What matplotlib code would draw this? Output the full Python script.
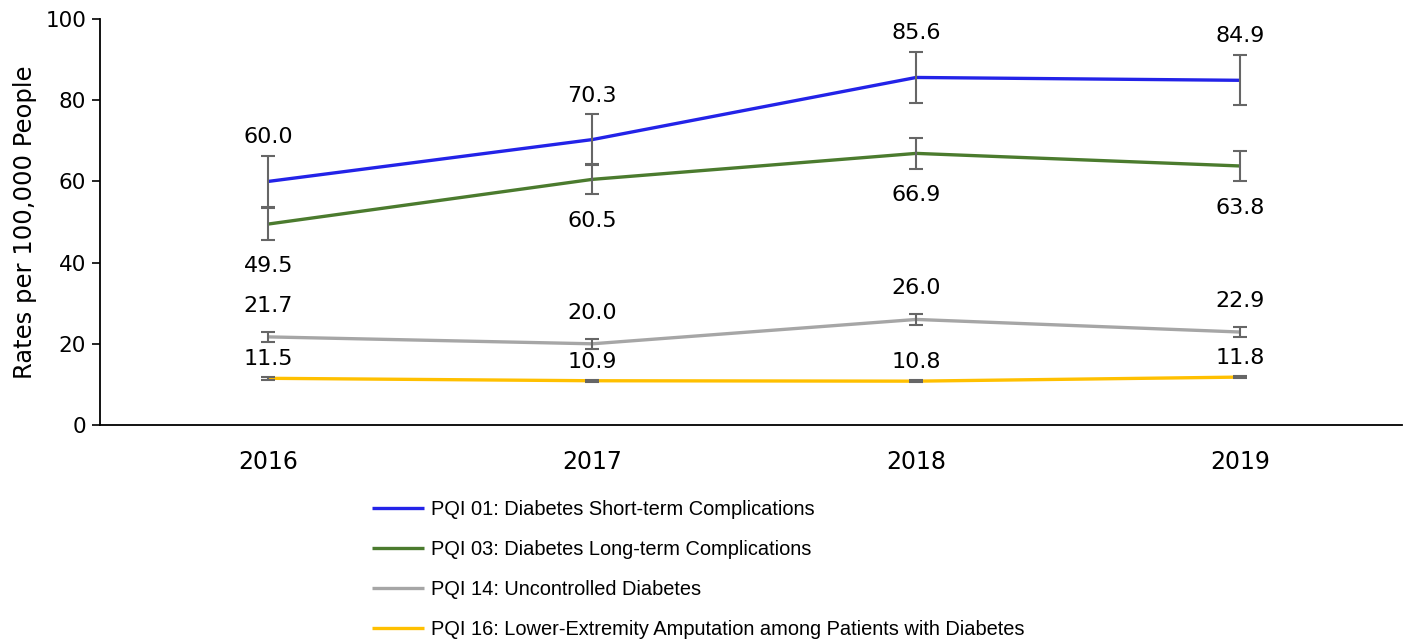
import matplotlib
matplotlib.use("Agg")
import matplotlib.pyplot as plt
import numpy as np

years = ["2016", "2017", "2018", "2019"]
series_names = [
    "PQI 01: Diabetes Short-term Complications",
    "PQI 03: Diabetes Long-term Complications",
    "PQI 14: Uncontrolled Diabetes",
    "PQI 16: Lower-Extremity Amputation among Patients with Diabetes",
]
pqi01 = [60.0, 70.3, 85.6, 84.9]
pqi03 = [49.5, 60.5, 66.9, 63.8]
pqi14 = [21.7, 20.0, 26.0, 22.9]
pqi16 = [11.5, 10.9, 10.8, 11.8]
err01 = [6.2, 6.2, 6.2, 6.2]
err03 = [4.0, 3.7, 3.8, 3.8]
err14 = [1.2, 1.2, 1.3, 1.2]
err16 = [0.3, 0.3, 0.3, 0.3]
yticks = [0, 20, 40, 60, 80, 100]

colors = ["#2323E8", "#4B7B2E", "#A6A6A6", "#FFC000"]
label_offsets_px = [44, -42, 31, 19]  # vertical offset of value labels (pixels)

plt.rcParams['font.family'] = ['DejaVu Sans']

fig = plt.figure(figsize=(14.04, 6.41), dpi=100)
ax = fig.add_axes([100/1404, 1-425/641, 1302/1404, (425-19)/641])

x = np.arange(len(years))
data = [pqi01, pqi03, pqi14, pqi16]
errs = [err01, err03, err14, err16]

handles = []
for vals, er, c, name in zip(data, errs, colors, series_names):
    h, = ax.plot(x, vals, color=c, lw=2.4, label=name, zorder=2, solid_capstyle='butt')
    handles.append(h)
for vals, er in zip(data, errs):
    ax.errorbar(x, vals, yerr=er, fmt='none', ecolor='#666666', elinewidth=1.5,
                capsize=5, capthick=1.5, zorder=3)
for vals, c, off in zip(data, colors, label_offsets_px):
    for xi, v in zip(x, vals):
        ax.annotate(f"{v:.1f}", (xi, v), xytext=(0, off*72/100), textcoords='offset points',
                    ha='center', va='center', fontsize=16, color='black')

ax.set_xlim(-0.52, 3.5)
ax.set_ylim(0, 100)
ax.set_yticks(yticks)
ax.set_xticks(x)
ax.set_xticklabels(years, fontsize=17)
ax.tick_params(axis='y', labelsize=15.5, length=6, width=1.2, direction='out', pad=4)
ax.tick_params(axis='x', length=0, pad=18)
for s in ['top', 'right']:
    ax.spines[s].set_visible(False)
for s in ['left', 'bottom']:
    ax.spines[s].set_linewidth(1.3)
ax.set_ylabel("Rates per 100,000 People", fontsize=17.5, labelpad=6)

leg = fig.legend(handles=handles, loc='upper left', bbox_to_anchor=(372/1404, 1-500/641),
                 frameon=False, ncol=1, prop={'family': 'Liberation Sans', 'size': 14.4},
                 handlelength=2.6, handletextpad=0.35, labelspacing=1.05, borderaxespad=0,
                 borderpad=0)

fig.savefig("out.png", dpi=100)
